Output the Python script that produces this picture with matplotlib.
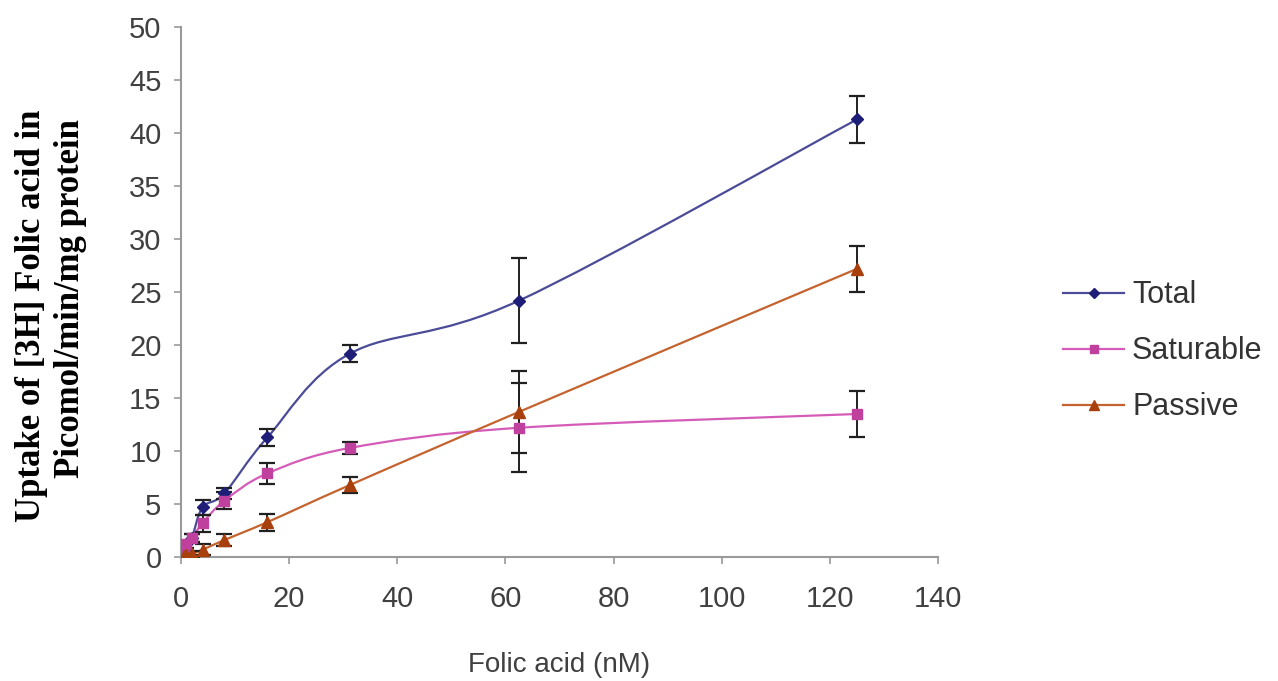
import numpy as np
import matplotlib
matplotlib.use("Agg")
import matplotlib.pyplot as plt
from matplotlib.path import Path
from matplotlib.patches import PathPatch
from matplotlib.lines import Line2D

conc = [0.5, 1, 2, 4, 8, 16, 31.25, 62.5, 125]
total = [0.5, 1.2, 1.8, 4.7, 6.0, 11.3, 19.2, 24.2, 41.3]
total_err = [0.3, 0.3, 0.4, 0.7, 0.5, 0.8, 0.8, 4.0, 2.2]
saturable = [0.5, 1.2, 1.8, 3.2, 5.3, 7.9, 10.3, 12.2, 13.5]
saturable_err = [0.3, 0.3, 0.4, 0.8, 0.8, 1.0, 0.6, 4.2, 2.2]
passive = [0.1, 0.2, 0.3, 0.7, 1.6, 3.3, 6.8, 13.7, 27.2]
passive_err = [0.2, 0.2, 0.3, 0.5, 0.6, 0.8, 0.8, 3.9, 2.2]
labels = ["Total", "Saturable", "Passive"]

series = [
    (total, total_err, "#4b4b98", "#1e1e78", "D", 6.5),
    (saturable, saturable_err, "#d45cb8", "#c0409e", "s", 6.5),
    (passive, passive_err, "#c4632e", "#a8400e", "^", 8.5),
]


def smooth_path(x, y, t=1 / 6.0):
    x = np.asarray(x, float)
    y = np.asarray(y, float)
    verts = [(x[0], y[0])]
    codes = [Path.MOVETO]
    n = len(x)
    for i in range(n - 1):
        p0 = np.array([x[max(i - 1, 0)], y[max(i - 1, 0)]])
        p1 = np.array([x[i], y[i]])
        p2 = np.array([x[i + 1], y[i + 1]])
        p3 = np.array([x[min(i + 2, n - 1)], y[min(i + 2, n - 1)]])
        c1 = p1 + (p2 - p0) * t
        c2 = p2 - (p3 - p1) * t
        verts += [tuple(c1), tuple(c2), tuple(p2)]
        codes += [Path.CURVE4] * 3
    return Path(verts, codes)


plt.rcParams["font.family"] = ["Liberation Sans", "DejaVu Sans"]

fig = plt.figure(figsize=(12.78, 6.81), dpi=100)
ax = fig.add_axes([0.1416, 0.182, 0.5924, 0.778])

for (vals, errs, lc, mc, mk, ms) in series:
    patch = PathPatch(smooth_path(conc, vals), facecolor="none", edgecolor=lc,
                      lw=1.6, transform=ax.transData, zorder=2)
    ax.add_patch(patch)
    ax.errorbar(conc, vals, yerr=errs, fmt="none", ecolor="#202020",
                elinewidth=1.4, capsize=6, capthick=1.6, zorder=3)
    ax.plot(conc, vals, linestyle="none", marker=mk, markersize=ms,
            color=mc, zorder=4)

ax.set_xlim(0, 140)
ax.set_ylim(0, 50)
ax.set_xticks(np.arange(0, 141, 20))
ax.set_yticks(np.arange(0, 51, 5))
for s in ["top", "right"]:
    ax.spines[s].set_visible(False)
for s in ["left", "bottom"]:
    ax.spines[s].set_color("#9a9a9a")
    ax.spines[s].set_linewidth(1.5)
ax.tick_params(direction="out", length=5, width=1.2, color="#9a9a9a",
               labelsize=21, labelcolor="#404040")
ax.tick_params(axis="x", pad=15)
ax.tick_params(axis="y", pad=9)

ax.set_xlabel("Folic acid (nM)", fontsize=20, color="#404040", labelpad=28)
fig.text(0.025, 0.536, "Uptake of [3H] Folic acid in", rotation=90,
         fontsize=25, fontweight="bold", family="Liberation Serif",
         ha="center", va="center")
fig.text(0.055, 0.562, "Picomol/min/mg protein", rotation=90,
         fontsize=25, fontweight="bold", family="Liberation Serif",
         ha="center", va="center")

handles = [Line2D([], [], color=lc, lw=1.6, marker=mk, markersize=ms - 1,
                  markerfacecolor=mc, markeredgecolor=mc)
           for (_, _, lc, mc, mk, ms) in series]
fig.legend(handles, labels, loc="center left", bbox_to_anchor=(0.832, 0.484),
           frameon=False, fontsize=22, handlelength=2.0, labelspacing=0.85,
           handletextpad=0.25, borderpad=0, borderaxespad=0,
           labelcolor="#333333")

fig.savefig("out.png", dpi=100)
